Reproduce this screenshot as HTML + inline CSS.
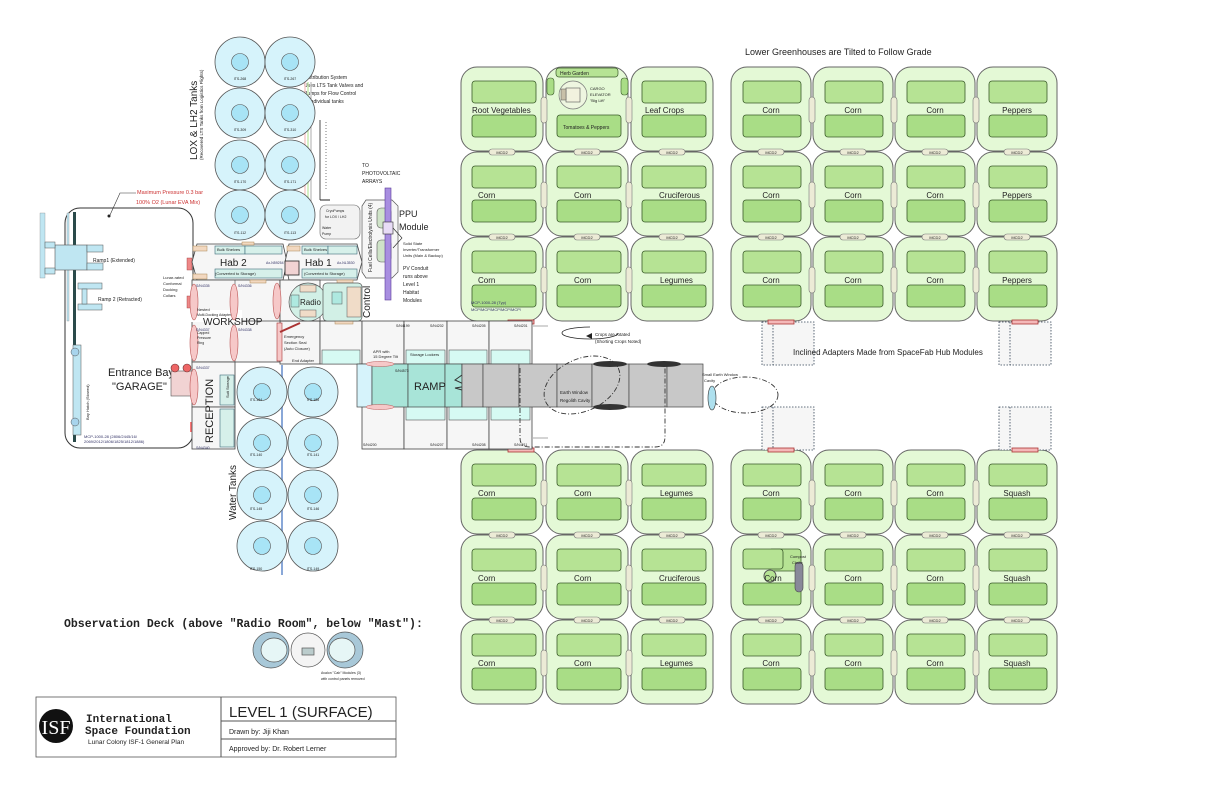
<!DOCTYPE html>
<html><head><meta charset="utf-8"><style>
html,body{margin:0;padding:0;background:#fff}
svg{display:block}
text{font-family:"Liberation Sans",sans-serif;fill:#222}
.s{font-size:5px}.m{font-size:8px}.l{font-size:10px}.b{fill:#336}
</style></head><body>
<svg width="1224" height="792" viewBox="0 0 1224 792" xmlns="http://www.w3.org/2000/svg">
<defs>
<g id="gl">
<rect x="0" y="0" width="82" height="84" rx="16" fill="#e4f9d6" stroke="#666" stroke-width="1"/>
<rect x="11" y="14" width="64" height="22" rx="3" fill="#b6e394" stroke="#3a5a2a" stroke-width="0.8"/>
<rect x="11" y="48" width="64" height="22" rx="3" fill="#a9dd86" stroke="#3a5a2a" stroke-width="0.8"/>
</g>
<g id="gr">
<rect x="0" y="0" width="80" height="84" rx="16" fill="#e4f9d6" stroke="#666" stroke-width="1"/>
<rect x="12" y="14" width="58" height="22" rx="3" fill="#b6e394" stroke="#3a5a2a" stroke-width="0.8"/>
<rect x="12" y="48" width="58" height="22" rx="3" fill="#a9dd86" stroke="#3a5a2a" stroke-width="0.8"/>
</g>
<g id="ph"><rect x="-13" y="-3" width="26" height="6" rx="3" fill="#ecebd6" stroke="#777" stroke-width="0.6"/><text x="0" y="2" font-size="4" text-anchor="middle">MCD2</text></g>
<g id="pv"><rect x="-3" y="-13" width="6" height="26" rx="3" fill="#ecebd6" stroke="#777" stroke-width="0.6"/></g>
<g id="tk"><circle r="25" fill="#d6f3fb" stroke="#555" stroke-width="0.8"/><circle r="8.5" fill="#a8e4f6" stroke="#555" stroke-width="0.6"/></g>
<g id="ap"><ellipse rx="4" ry="18" fill="#f6c8c8" stroke="#b55" stroke-width="0.6"/></g>
</defs>

<!-- top-left greenhouses -->
<use href="#gl" x="461" y="67"/>
<g><rect x="546" y="67" width="82" height="84" rx="16" fill="#e4f9d6" stroke="#666"/>
<rect x="556" y="68" width="62" height="9" rx="3" fill="#b6e394" stroke="#3a5a2a" stroke-width="0.7"/>
<text x="560" y="75" font-size="5">Herb Garden</text>
<rect x="547" y="78" width="7" height="17" rx="3" fill="#a9dd86" stroke="#3a5a2a" stroke-width="0.6"/>
<rect x="621" y="78" width="7" height="17" rx="3" fill="#a9dd86" stroke="#3a5a2a" stroke-width="0.6"/>
<circle cx="573" cy="95" r="14" fill="#eef6e0" stroke="#777" stroke-width="0.7"/>
<rect x="566" y="88" width="14" height="14" fill="#f2f2de" stroke="#555" stroke-width="0.6"/>
<rect x="561" y="89" width="5" height="11" fill="#c8c0a8" stroke="#555" stroke-width="0.5"/>
<text x="590" y="90" font-size="4">CARGO</text><text x="590" y="96" font-size="4">ELEVATOR</text><text x="590" y="102" font-size="4">"Big Lift"</text>
<rect x="557" y="115" width="64" height="22" rx="3" fill="#a9dd86" stroke="#3a5a2a" stroke-width="0.8"/>
<text x="563" y="129" font-size="5">Tomatoes &amp; Peppers</text></g>
<use href="#gl" x="631" y="67"/>
<use href="#gl" x="461" y="152"/><use href="#gl" x="546" y="152"/><use href="#gl" x="631" y="152"/>
<use href="#gl" x="461" y="237"/><use href="#gl" x="546" y="237"/><use href="#gl" x="631" y="237"/>
<text x="472" y="113" class="m">Root Vegetables</text><text x="645" y="113" class="m">Leaf Crops</text>
<text x="478" y="198" class="m">Corn</text><text x="574" y="198" class="m">Corn</text><text x="659" y="198" class="m">Cruciferous</text>
<text x="478" y="283" class="m">Corn</text><text x="574" y="283" class="m">Corn</text><text x="660" y="283" class="m">Legumes</text>
<text x="471" y="304" font-size="4" class="b">MCP-1000-28 (Typ)</text>
<text x="471" y="311" font-size="4" class="b">MCP/MCP/MCP/MCP/MCP/</text>

<!-- top-right greenhouses -->
<use href="#gr" x="731" y="67"/><use href="#gr" x="813" y="67"/><use href="#gr" x="895" y="67"/><use href="#gr" x="977" y="67"/>
<use href="#gr" x="731" y="152"/><use href="#gr" x="813" y="152"/><use href="#gr" x="895" y="152"/><use href="#gr" x="977" y="152"/>
<use href="#gr" x="731" y="237"/><use href="#gr" x="813" y="237"/><use href="#gr" x="895" y="237"/><use href="#gr" x="977" y="237"/>
<g class="m" text-anchor="middle">
<text x="771" y="113">Corn</text><text x="853" y="113">Corn</text><text x="935" y="113">Corn</text><text x="1017" y="113">Peppers</text>
<text x="771" y="198">Corn</text><text x="853" y="198">Corn</text><text x="935" y="198">Corn</text><text x="1017" y="198">Peppers</text>
<text x="771" y="283">Corn</text><text x="853" y="283">Corn</text><text x="935" y="283">Corn</text><text x="1017" y="283">Peppers</text>
</g>

<!-- bottom-left greenhouses -->
<use href="#gl" x="461" y="450"/><use href="#gl" x="546" y="450"/><use href="#gl" x="631" y="450"/>
<use href="#gl" x="461" y="535"/><use href="#gl" x="546" y="535"/><use href="#gl" x="631" y="535"/>
<use href="#gl" x="461" y="620"/><use href="#gl" x="546" y="620"/><use href="#gl" x="631" y="620"/>
<text x="478" y="496" class="m">Corn</text><text x="574" y="496" class="m">Corn</text><text x="660" y="496" class="m">Legumes</text>
<text x="478" y="581" class="m">Corn</text><text x="574" y="581" class="m">Corn</text><text x="659" y="581" class="m">Cruciferous</text>
<text x="478" y="666" class="m">Corn</text><text x="574" y="666" class="m">Corn</text><text x="660" y="666" class="m">Legumes</text>

<!-- bottom-right greenhouses -->
<use href="#gr" x="731" y="450"/><use href="#gr" x="813" y="450"/><use href="#gr" x="895" y="450"/><use href="#gr" x="977" y="450"/>
<use href="#gr" x="731" y="535"/><use href="#gr" x="813" y="535"/><use href="#gr" x="895" y="535"/><use href="#gr" x="977" y="535"/>
<use href="#gr" x="731" y="620"/><use href="#gr" x="813" y="620"/><use href="#gr" x="895" y="620"/><use href="#gr" x="977" y="620"/>
<rect x="740" y="548" width="32" height="26" rx="3" fill="#e4f9d6" stroke="none"/>
<rect x="743" y="549" width="40" height="20" rx="3" fill="#b6e394" stroke="#3a5a2a" stroke-width="0.8"/>
<circle cx="770" cy="576" r="6" fill="#b6e394" stroke="#555"/>
<rect x="795" y="562" width="8" height="30" rx="4" fill="#889" stroke="#444" stroke-width="0.6"/>
<text x="790" y="558" font-size="4">Compost</text><text x="792" y="564" font-size="4">Chute</text>
<g class="m" text-anchor="middle">
<text x="771" y="496">Corn</text><text x="853" y="496">Corn</text><text x="935" y="496">Corn</text><text x="1017" y="496">Squash</text>
<text x="773" y="581">Corn</text><text x="853" y="581">Corn</text><text x="935" y="581">Corn</text><text x="1017" y="581">Squash</text>
<text x="771" y="666">Corn</text><text x="853" y="666">Corn</text><text x="935" y="666">Corn</text><text x="1017" y="666">Squash</text>
</g>

<!-- MCD2 pills -->
<g>
<use href="#ph" x="502" y="152"/><use href="#ph" x="587" y="152"/><use href="#ph" x="672" y="152"/>
<use href="#ph" x="502" y="237"/><use href="#ph" x="587" y="237"/><use href="#ph" x="672" y="237"/>
<use href="#ph" x="771" y="152"/><use href="#ph" x="853" y="152"/><use href="#ph" x="935" y="152"/><use href="#ph" x="1017" y="152"/>
<use href="#ph" x="771" y="237"/><use href="#ph" x="853" y="237"/><use href="#ph" x="935" y="237"/><use href="#ph" x="1017" y="237"/>
<use href="#ph" x="502" y="535"/><use href="#ph" x="587" y="535"/><use href="#ph" x="672" y="535"/>
<use href="#ph" x="502" y="620"/><use href="#ph" x="587" y="620"/><use href="#ph" x="672" y="620"/>
<use href="#ph" x="771" y="535"/><use href="#ph" x="853" y="535"/><use href="#ph" x="935" y="535"/><use href="#ph" x="1017" y="535"/>
<use href="#ph" x="771" y="620"/><use href="#ph" x="853" y="620"/><use href="#ph" x="935" y="620"/><use href="#ph" x="1017" y="620"/>
<use href="#pv" x="544" y="110"/><use href="#pv" x="629" y="110"/><use href="#pv" x="544" y="195"/><use href="#pv" x="629" y="195"/><use href="#pv" x="544" y="280"/><use href="#pv" x="629" y="280"/>
<use href="#pv" x="812" y="110"/><use href="#pv" x="894" y="110"/><use href="#pv" x="976" y="110"/>
<use href="#pv" x="812" y="195"/><use href="#pv" x="894" y="195"/><use href="#pv" x="976" y="195"/>
<use href="#pv" x="812" y="280"/><use href="#pv" x="894" y="280"/><use href="#pv" x="976" y="280"/>
<use href="#pv" x="544" y="493"/><use href="#pv" x="629" y="493"/><use href="#pv" x="544" y="578"/><use href="#pv" x="629" y="578"/><use href="#pv" x="544" y="663"/><use href="#pv" x="629" y="663"/>
<use href="#pv" x="812" y="493"/><use href="#pv" x="894" y="493"/><use href="#pv" x="976" y="493"/>
<use href="#pv" x="812" y="578"/><use href="#pv" x="894" y="578"/><use href="#pv" x="976" y="578"/>
<use href="#pv" x="812" y="663"/><use href="#pv" x="894" y="663"/><use href="#pv" x="976" y="663"/>
</g>

<!-- inclined adapters -->
<g fill="#f6f6f6" stroke="#345" stroke-width="0.8" stroke-dasharray="1.5,1.5">
<rect x="762" y="322" width="52" height="43"/><line x1="773" y1="322" x2="773" y2="365"/>
<rect x="999" y="322" width="52" height="43"/><line x1="1010" y1="322" x2="1010" y2="365"/>
<rect x="762" y="407" width="52" height="43"/><line x1="773" y1="407" x2="773" y2="450"/>
<rect x="999" y="407" width="52" height="43"/><line x1="1010" y1="407" x2="1010" y2="450"/>
</g>
<g fill="#f4b8b8" stroke="#a33" stroke-width="0.8">
<rect x="768" y="320" width="26" height="4"/><rect x="1012" y="320" width="26" height="4"/>
<rect x="768" y="448" width="26" height="4"/><rect x="1012" y="448" width="26" height="4"/>
<rect x="508" y="320" width="26" height="4"/><rect x="508" y="448" width="26" height="4"/>
</g>
<text x="745" y="55" font-size="9">Lower Greenhouses are Tilted to Follow Grade</text>
<text x="793" y="355" font-size="8">Inclined Adapters Made from SpaceFab Hub Modules</text>

<!-- crops rotated note -->
<path d="M590 327 A28 6 0 1 0 590 339" fill="none" stroke="#222" stroke-width="0.8"/>
<path d="M590 339 A28 6 0 0 0 618 333" fill="none" stroke="#222" stroke-width="0.8"/>
<polygon points="586,336 592,333 592,339" fill="#222"/>
<text x="595" y="336" font-size="4.5">Crops are rotated</text>
<text x="595" y="343" font-size="4.5">(Shorting Crops Noted)</text>
<line x1="533" y1="326" x2="548" y2="326" stroke="#aaa"/><line x1="533" y1="438" x2="548" y2="438" stroke="#aaa"/>

<!-- corridor modules -->
<g fill="#f6f6f6" stroke="#444" stroke-width="0.8">
<rect x="280" y="321" width="40" height="43"/>
<rect x="320" y="321" width="42" height="43"/><rect x="362" y="321" width="42" height="43"/><rect x="404" y="321" width="43" height="43"/><rect x="447" y="321" width="42" height="43"/><rect x="489" y="321" width="43" height="43"/>
<rect x="362" y="406" width="42" height="43"/><rect x="404" y="406" width="43" height="43"/><rect x="447" y="406" width="42" height="43"/><rect x="489" y="406" width="43" height="43"/>
</g>
<g fill="#d6faf3" stroke="#555" stroke-width="0.6">
<rect x="322" y="350" width="38" height="14"/><rect x="406" y="350" width="39" height="14"/><rect x="449" y="350" width="38" height="14"/><rect x="491" y="350" width="39" height="14"/>
<rect x="406" y="406" width="39" height="14"/><rect x="449" y="406" width="38" height="14"/><rect x="491" y="406" width="39" height="14"/>
</g>
<text x="410" y="356" font-size="4">Storage Lockers</text>
<text x="373" y="353" font-size="4">APR with</text><text x="373" y="358" font-size="4">15 Degree Tilt</text>
<!-- ramp band -->
<rect x="357" y="364" width="15" height="43" fill="#d6f3fb" stroke="#444" stroke-width="0.7"/>
<rect x="372" y="364" width="36" height="43" fill="#a8e4d8" stroke="#444" stroke-width="0.7"/>
<rect x="408" y="364" width="37" height="43" fill="#a8e4d8" stroke="#444" stroke-width="0.7"/>
<rect x="445" y="364" width="17" height="43" fill="#a8e4d8" stroke="#444" stroke-width="0.7"/>
<polyline points="462,364 462,375 455,380 468,386 455,388 462,390 462,407" fill="none" stroke="#333"/>
<g fill="#c8c8c8" stroke="#444" stroke-width="0.7">
<rect x="462" y="364" width="21" height="43"/><rect x="483" y="364" width="36" height="43"/><rect x="519" y="364" width="38" height="43"/><rect x="557" y="364" width="35" height="43"/><rect x="592" y="364" width="37" height="43"/><rect x="629" y="364" width="38" height="43"/><rect x="667" y="364" width="36" height="43"/>
</g>
<text x="414" y="390" font-size="11">RAMP</text>
<ellipse cx="380" cy="364" rx="14" ry="2.5" fill="#f6c8c8" stroke="#b55" stroke-width="0.5"/>
<ellipse cx="380" cy="407" rx="14" ry="2.5" fill="#f6c8c8" stroke="#b55" stroke-width="0.5"/>
<ellipse cx="610" cy="364" rx="17" ry="3" fill="#333"/><ellipse cx="664" cy="364" rx="17" ry="3" fill="#333"/><ellipse cx="610" cy="407" rx="17" ry="3" fill="#333"/>
<g fill="none" stroke="#333" stroke-width="0.9" stroke-dasharray="5,2,1,2">
<path d="M520 368 L520 438 Q520 447 530 447 L655 447 Q665 447 665 437 L665 366"/>
<ellipse cx="582" cy="385" rx="40" ry="26" transform="rotate(-25 582 385)"/>
<ellipse cx="745" cy="395" rx="33" ry="18"/>
</g>
<ellipse cx="712" cy="398" rx="4" ry="12" fill="#aee0ee" stroke="#333" stroke-width="0.6"/>
<text x="560" y="394" font-size="4.5">Earth Window</text><text x="560" y="402" font-size="4.5">Regolith Cavity</text>
<text x="702" y="376" font-size="4">Small Earth Window</text><text x="704" y="382" font-size="4">Cavity</text>
<g font-size="3.5" class="b"><text x="396" y="327">S/N4199</text><text x="430" y="327">S/N4202</text><text x="472" y="327">S/N4205</text><text x="514" y="327">S/N4201</text>
<text x="395" y="372">S/N4573</text><text x="363" y="446">S/N4200</text><text x="430" y="446">S/N4207</text><text x="472" y="446">S/N4208</text><text x="514" y="446">S/N4211</text></g>

<!-- garage -->
<rect x="65" y="208" width="128" height="240" rx="15" fill="#fff" stroke="#333" stroke-width="1"/>
<rect x="73" y="212" width="3" height="230" fill="#2a4a4a"/>
<rect x="67" y="213" width="2" height="108" fill="#bfe6f2" stroke="#777" stroke-width="0.3"/>
<rect x="40" y="213" width="5" height="65" fill="#bfe6f2" stroke="#777" stroke-width="0.3"/>
<rect x="55" y="245" width="32" height="25" fill="#bfe6f2" stroke="#555" stroke-width="0.6"/>
<rect x="87" y="245" width="16" height="7" fill="#bfe6f2" stroke="#555" stroke-width="0.5"/><rect x="87" y="263" width="16" height="7" fill="#bfe6f2" stroke="#555" stroke-width="0.5"/>
<rect x="45" y="242" width="10" height="6" fill="#bfe6f2" stroke="#555" stroke-width="0.5"/><rect x="45" y="268" width="10" height="6" fill="#bfe6f2" stroke="#555" stroke-width="0.5"/>
<rect x="78" y="283" width="24" height="6" fill="#bfe6f2" stroke="#555" stroke-width="0.5"/><rect x="78" y="304" width="24" height="6" fill="#bfe6f2" stroke="#555" stroke-width="0.5"/>
<rect x="82" y="289" width="5" height="15" fill="#bfe6f2" stroke="#555" stroke-width="0.5"/>
<rect x="73" y="345" width="8" height="90" fill="#bfe6f2" stroke="#555" stroke-width="0.5"/>
<circle cx="75" cy="352" r="4" fill="#a8d4ec" stroke="#555" stroke-width="0.5"/><circle cx="75" cy="422" r="4" fill="#a8d4ec" stroke="#555" stroke-width="0.5"/>
<text x="93" y="262" font-size="5">Ramp1 (Extended)</text>
<text x="98" y="301" font-size="5">Ramp 2 (Retracted)</text>
<text x="0" y="0" font-size="4" transform="translate(89 420) rotate(-90)">Bay Hatch (Stowed)</text>
<text x="108" y="376" font-size="11">Entrance Bay</text><text x="112" y="390" font-size="11">"GARAGE"</text>
<rect x="171" y="371" width="22" height="25" fill="#f1d3d3" stroke="#555" stroke-width="0.6"/>
<circle cx="175" cy="368" r="4" fill="#e66" stroke="#633" stroke-width="0.6"/><circle cx="187" cy="368" r="4" fill="#e66" stroke="#633" stroke-width="0.6"/>
<rect x="190" y="422" width="4" height="10" fill="#f77"/>
<rect x="187" y="258" width="5" height="12" fill="#e88" stroke="#933" stroke-width="0.4"/><rect x="187" y="296" width="5" height="12" fill="#e88" stroke="#933" stroke-width="0.4"/>
<text x="84" y="438" font-size="4" class="b">MCP-1000-28 (2806/2445/16/</text><text x="84" y="443" font-size="4" class="b">2069/2012/1806/1825/1812/1886)</text>
<text x="137" y="194" font-size="5.5" style="fill:#c33">Maximum Pressure 0.3 bar</text>
<text x="136" y="204" font-size="5.5" style="fill:#c33">100% O2 (Lunar EVA Mix)</text>
<polyline points="136,193 120,193 110,215" fill="none" stroke="#333" stroke-width="0.6"/><circle cx="109" cy="216" r="1.5" fill="#222"/>
<text x="163" y="279" font-size="4">Lunar-rated</text><text x="163" y="285" font-size="4">Conformal</text><text x="163" y="291" font-size="4">Docking</text><text x="163" y="297" font-size="4">Collars</text>

<!-- habs / workshop -->
<g fill="#f6f6f6" stroke="#444" stroke-width="0.8">
<path d="M197 244 L283 244 L287 262 L283 280 L197 280 L192 262 Z"/>
<path d="M289 244 L357 244 L362 262 L357 280 L289 280 L285 262 Z"/>
<rect x="192" y="280" width="88" height="82"/>
<rect x="280" y="280" width="40" height="41"/>
<rect x="192" y="362" width="43" height="45"/><rect x="192" y="407" width="43" height="42"/>
</g>
<line x1="192" y1="321" x2="357" y2="321" stroke="#444" stroke-width="0.8"/>
<line x1="235" y1="280" x2="235" y2="362" stroke="#444" stroke-width="0.6"/>
<g fill="#d6f0ea" stroke="#3b6b7a" stroke-width="0.6">
<rect x="215" y="246" width="30" height="8"/><rect x="245" y="246" width="37" height="8"/><rect x="215" y="269" width="67" height="9"/>
<rect x="302" y="246" width="26" height="8"/><rect x="328" y="246" width="29" height="8"/><rect x="302" y="269" width="55" height="9"/>
<rect x="220" y="375" width="14" height="30"/><rect x="220" y="409" width="14" height="38"/>
</g>
<g fill="#f2d8c0" stroke="#a85" stroke-width="0.5"><rect x="193" y="246" width="14" height="5"/><rect x="193" y="274" width="14" height="5"/><rect x="287" y="246" width="13" height="5"/><rect x="250" y="280" width="16" height="3"/><rect x="337" y="280" width="16" height="3"/><rect x="335" y="321" width="18" height="3"/><rect x="242" y="242" width="12" height="3"/></g>
<rect x="285" y="261" width="14" height="14" fill="#f1d3d3" stroke="#222" stroke-width="0.8"/>
<text x="220" y="266" class="l">Hab 2</text><text x="305" y="266" class="l">Hab 1</text>
<text x="217" y="251" font-size="4">Bulk Shelves</text><text x="304" y="251" font-size="4">Bulk Shelves</text>
<text x="215" y="275" font-size="4">(Converted to Storage)</text><text x="304" y="275" font-size="4">(Converted to Storage)</text>
<text x="266" y="264" font-size="3.5" class="b">Ax-N59254</text><text x="337" y="264" font-size="3.5" class="b">Ax-NL3530</text>
<rect x="190" y="310" width="52" height="12" fill="#fff"/>
<text x="203" y="325" font-size="10">WORKSHOP</text>
<use href="#ap" x="194" y="302"/><use href="#ap" x="234" y="302"/><use href="#ap" x="277" y="301"/>
<use href="#ap" x="194" y="343"/><use href="#ap" x="234" y="343"/><use href="#ap" x="194" y="387"/>
<rect x="277" y="323" width="5" height="38" fill="#f6c8c8" stroke="#a33" stroke-width="0.6"/>
<line x1="280" y1="332" x2="300" y2="323" stroke="#a33" stroke-width="2"/>
<text x="284" y="338" font-size="4">Emergency</text><text x="284" y="344" font-size="4">Section Seal</text><text x="284" y="350" font-size="4">(Auto Closure)</text>
<text x="292" y="362" font-size="4">End Adapter</text>
<text x="0" y="0" font-size="11" transform="translate(213 443) rotate(-90)">RECEPTION</text>
<text x="0" y="0" font-size="4" transform="translate(229 398) rotate(-90)">Suit Storage</text>
<text x="197" y="311" font-size="4">Nested</text><text x="197" y="316" font-size="3.5">Multi-Docking Adapter</text>
<text x="197" y="334" font-size="3.5">Capped</text><text x="197" y="339" font-size="3.5">Pressure</text><text x="197" y="344" font-size="3.5">Ring</text>
<text x="196" y="369" font-size="3.5" class="b">S/N4337</text><text x="196" y="449" font-size="3.5" class="b">S/N4340</text>
<text x="196" y="287" font-size="3.5" class="b">S/N4335</text><text x="238" y="287" font-size="3.5" class="b">S/N4336</text><text x="196" y="331" font-size="3.5" class="b">S/N4337</text><text x="238" y="331" font-size="3.5" class="b">S/N4338</text>

<!-- radio / control -->
<circle cx="308" cy="302" r="19" fill="#d2f0e6" stroke="#555" stroke-width="0.7"/>
<rect x="300" y="285" width="16" height="7" fill="#f0dcc8" stroke="#555" stroke-width="0.5"/><rect x="300" y="310" width="16" height="7" fill="#f0dcc8" stroke="#555" stroke-width="0.5"/>
<rect x="291" y="295" width="8" height="12" fill="#aee9e0" stroke="#555" stroke-width="0.5"/>
<text x="300" y="305" font-size="8">Radio</text>
<rect x="323" y="283" width="39" height="38" rx="4" fill="#d2f0e6" stroke="#555" stroke-width="0.7"/>
<rect x="347" y="287" width="14" height="30" fill="#f0dcc8" stroke="#555" stroke-width="0.5"/>
<rect x="332" y="292" width="10" height="12" fill="#aee9e0" stroke="#555" stroke-width="0.5"/>
<text x="0" y="0" font-size="10" transform="translate(370 318) rotate(-90)">Control</text>

<!-- PPU -->
<path d="M366 200 L392 200 L398 206 L398 272 L392 278 L366 278 L362 272 L362 206 Z" fill="#f6f6f6" stroke="#555" stroke-width="0.7"/>
<rect x="377" y="208" width="14" height="20" rx="4" fill="#cfe3c8" stroke="#555" stroke-width="0.6"/>
<rect x="377" y="240" width="14" height="22" rx="4" fill="#cfe3c8" stroke="#555" stroke-width="0.6"/>
<rect x="385" y="188" width="6" height="112" fill="#a88ee0" stroke="#5a3a9a" stroke-width="0.6"/>
<rect x="383" y="222" width="10" height="12" fill="#e8dcf6" stroke="#333" stroke-width="0.6"/>
<text x="0" y="0" font-size="5" transform="translate(372 272) rotate(-90)">Fuel Cells/Electrolysis Units (4)</text>
<text x="399" y="217" font-size="9">PPU</text><text x="399" y="230" font-size="9">Module</text>
<polyline points="393,228 402,238 393,248" fill="none" stroke="#222" stroke-width="0.6"/>
<text x="403" y="245" font-size="4">Solid State</text><text x="403" y="251" font-size="4">Inverter/Transformer</text><text x="403" y="257" font-size="4">Units (Main &amp; Backup)</text>
<text x="403" y="270" font-size="5">PV Conduit</text><text x="403" y="278" font-size="5">runs above</text><text x="403" y="286" font-size="5">Level 1</text><text x="403" y="294" font-size="5">Habitat</text><text x="403" y="302" font-size="5">Modules</text>
<text x="362" y="167" font-size="5">TO</text><text x="362" y="175" font-size="5">PHOTOVOLTAIC</text><text x="362" y="183" font-size="5">ARRAYS</text>
<rect x="320" y="205" width="40" height="34" rx="6" fill="#f2f2f2" stroke="#666" stroke-width="0.6"/>
<text x="326" y="212" font-size="3.5">CryoPumps</text><text x="325" y="218" font-size="3.5">for LOX / LH2</text>
<text x="322" y="229" font-size="3.5">Water</text><text x="322" y="235" font-size="3.5">Pump</text>
<text x="304" y="79" font-size="5">Distribution System</text><text x="304" y="87" font-size="5">Uses LTS Tank Valves and</text><text x="304" y="95" font-size="5">Pumps for Flow Control</text><text x="304" y="103" font-size="5">to individual tanks</text>
<line x1="320" y1="120" x2="320" y2="200" stroke="#222" stroke-width="0.8"/><polyline points="320,200 330,200" stroke="#222" fill="none"/>
<line x1="326" y1="122" x2="326" y2="190" stroke="#222" stroke-width="0.6" stroke-dasharray="1,2"/>

<!-- tanks -->
<g fill="none" stroke-width="1.2"><line x1="305" y1="82" x2="305" y2="210" stroke="#f3bcbc"/><line x1="308" y1="82" x2="308" y2="210" stroke="#b9e59c"/><line x1="311" y1="82" x2="311" y2="210" stroke="#bbb"/></g>
<use href="#tk" x="240" y="62"/><use href="#tk" x="290" y="62"/>
<use href="#tk" x="240" y="113"/><use href="#tk" x="290" y="113"/>
<use href="#tk" x="240" y="165"/><use href="#tk" x="290" y="165"/>
<use href="#tk" x="240" y="215"/><use href="#tk" x="290" y="215"/>
<line x1="282" y1="365" x2="282" y2="575" stroke="#8aa8d8" stroke-width="2"/>
<use href="#tk" x="262" y="392"/><use href="#tk" x="313" y="392"/>
<use href="#tk" x="262" y="443"/><use href="#tk" x="313" y="443"/>
<use href="#tk" x="262" y="495"/><use href="#tk" x="313" y="495"/>
<use href="#tk" x="262" y="546"/><use href="#tk" x="313" y="546"/>
<g font-size="3.5" class="b" text-anchor="middle">
<text x="240" y="80">ITS-268</text><text x="290" y="80">ITS-267</text><text x="240" y="131">ITS-309</text><text x="290" y="131">ITS-310</text>
<text x="240" y="183">ITS-170</text><text x="290" y="183">ITS-171</text><text x="240" y="234">ITS-112</text><text x="290" y="234">ITS-113</text>
<text x="256" y="401">ITS-184</text><text x="313" y="401">ITS-185</text><text x="256" y="456">ITS-140</text><text x="313" y="456">ITS-141</text>
<text x="256" y="510">ITS-145</text><text x="313" y="510">ITS-146</text><text x="256" y="570">ITS-150</text><text x="313" y="570">ITS-149</text></g>
<text x="0" y="0" font-size="10" transform="translate(197 160) rotate(-90)">LOX &amp; LH2 Tanks</text>
<text x="0" y="0" font-size="4.5" transform="translate(203 160) rotate(-90)">(Recovered LTS Tanks from Logistics Flights)</text>
<text x="0" y="0" font-size="10" transform="translate(236 520) rotate(-90)">Water Tanks</text>

<!-- observation deck -->
<text x="64" y="627" font-size="11.5" font-weight="bold" style="font-family:'Liberation Mono',monospace">Observation Deck (above "Radio Room", below "Mast"):</text>
<g stroke="#555" stroke-width="0.7">
<circle cx="271" cy="650" r="18" fill="#a8c8d8"/><circle cx="345" cy="650" r="18" fill="#a8c8d8"/>
<ellipse cx="274" cy="650" rx="13" ry="12" fill="#e6f6f6"/><ellipse cx="342" cy="650" rx="13" ry="12" fill="#e6f6f6"/>
<circle cx="308" cy="650" r="17" fill="#f4f4f4"/>
<rect x="302" y="648" width="12" height="7" fill="#bcc" /></g>
<text x="321" y="674" font-size="3.5">Avalon "Cab" Modules (3)</text><text x="321" y="680" font-size="3.5">with control panels removed</text>

<!-- title block -->
<rect x="36" y="697" width="360" height="60" fill="#fff" stroke="#555" stroke-width="0.8"/>
<line x1="221" y1="697" x2="221" y2="757" stroke="#555"/>
<line x1="221" y1="721" x2="396" y2="721" stroke="#555"/><line x1="221" y1="739" x2="396" y2="739" stroke="#555"/>
<circle cx="56" cy="726" r="17" fill="#111"/>
<text x="56" y="734" font-size="20" text-anchor="middle" style="fill:#fff;font-family:'Liberation Serif',serif">ISF</text>
<text x="86" y="722" font-size="11" font-weight="bold" style="font-family:'Liberation Mono',monospace">International</text>
<text x="85" y="734" font-size="11" font-weight="bold" style="font-family:'Liberation Mono',monospace">Space Foundation</text>
<text x="88" y="744" font-size="6.5">Lunar Colony ISF-1 General Plan</text>
<text x="229" y="717" font-size="15">LEVEL 1 (SURFACE)</text>
<text x="229" y="734" font-size="7">Drawn by: Jiji Khan</text>
<text x="229" y="751" font-size="7">Approved by: Dr. Robert Lerner</text>
</svg>
</body></html>
